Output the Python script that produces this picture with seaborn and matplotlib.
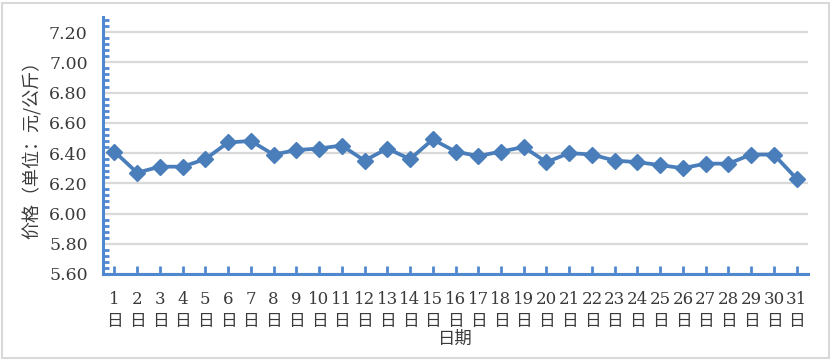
import matplotlib
matplotlib.use("Agg")
import matplotlib.pyplot as plt
from matplotlib.ticker import MultipleLocator, FixedLocator
from matplotlib.patches import Rectangle
import seaborn as sns
import pandas as pd

# ---- data ----
days = [1, 2, 3, 4, 5, 6, 7, 8, 9, 10, 11, 12, 13, 14, 15, 16,
        17, 18, 19, 20, 21, 22, 23, 24, 25, 26, 27, 28, 29, 30, 31]
day_labels = [f"{d}\n日" for d in days]
prices = [6.41, 6.27, 6.31, 6.31, 6.36, 6.47, 6.48, 6.39, 6.42, 6.43, 6.45,
          6.35, 6.43, 6.36, 6.49, 6.41, 6.38, 6.41, 6.44, 6.34, 6.40, 6.39,
          6.35, 6.34, 6.32, 6.30, 6.33, 6.33, 6.39, 6.39, 6.23]
y_ticks = [5.60, 5.80, 6.00, 6.20, 6.40, 6.60, 6.80, 7.00, 7.20]
x_title = "日期"
y_title = "价格（单位：元/公斤）"

df = pd.DataFrame({"day": days, "price": prices})

sns.set_style("white")
plt.rcParams["font.family"] = ["DejaVu Serif", "Noto Sans CJK SC"]

LINE = "#4A7EBB"
AXC = "#5088D0"
TXT = "#3A3A3A"
GRID = "#D9D9D9"

fig = plt.figure(figsize=(8.32, 3.6), dpi=100)
ax = fig.add_axes([103 / 832, 1 - 274 / 360, (808 - 103) / 832, (274 - 17) / 360])

sns.lineplot(data=df, x="day", y="price", ax=ax, color=LINE, linewidth=2.7,
             marker="D", markersize=8.3, markeredgecolor=LINE,
             markerfacecolor=LINE, markeredgewidth=1)

ax.set_xlim(0.5, 31.5)
ax.set_ylim(5.60, 7.30)

# y axis
ax.yaxis.set_major_locator(FixedLocator(y_ticks))
ax.yaxis.set_minor_locator(MultipleLocator(0.04))
ax.set_yticklabels([f"{v:.2f}" for v in y_ticks])
ax.tick_params(axis="y", which="major", direction="in", length=7, width=2,
               color=AXC, pad=11, labelsize=12.5, labelcolor=TXT)
ax.tick_params(axis="y", which="minor", direction="in", length=4, width=2,
               color=AXC, left=True)
ax.grid(axis="y", which="major", color=GRID, linewidth=1.6)
ax.set_axisbelow(True)

# x axis: major ticks at category borders (out), minor at centers (in) with labels
borders = [d - 0.5 for d in days] + [days[-1] + 0.5]
ax.xaxis.set_major_locator(FixedLocator(borders))
ax.xaxis.set_major_formatter(plt.NullFormatter())
ax.xaxis.set_minor_locator(FixedLocator(days + [days[-1] + 0.5]))
ax.set_xticklabels(day_labels + [""], minor=True, linespacing=1.4,
                   family=["DejaVu Serif", "Noto Sans CJK SC"])
ax.tick_params(axis="x", which="major", direction="out", length=7, width=2,
               color=AXC)
ax.tick_params(axis="x", which="minor", direction="in", length=6, width=2,
               color=AXC, bottom=True, pad=12, labelsize=12, labelcolor=TXT)

for s in ["top", "right"]:
    ax.spines[s].set_visible(False)
for s in ["left", "bottom"]:
    ax.spines[s].set_color(AXC)
    ax.spines[s].set_linewidth(2.2)

ax.set_xlabel(x_title, fontsize=12.5, color=TXT, labelpad=0,
              family=["Noto Sans CJK SC"])
ax.set_ylabel(y_title, fontsize=13, color=TXT, labelpad=5,
              family=["Noto Sans CJK SC"])

fig.patches.append(Rectangle((2 / 832, 2 / 360), 827 / 832, 355 / 360,
                             transform=fig.transFigure, fill=False,
                             edgecolor=GRID, linewidth=1.5))

fig.savefig("out.png", dpi=100, facecolor="white")
